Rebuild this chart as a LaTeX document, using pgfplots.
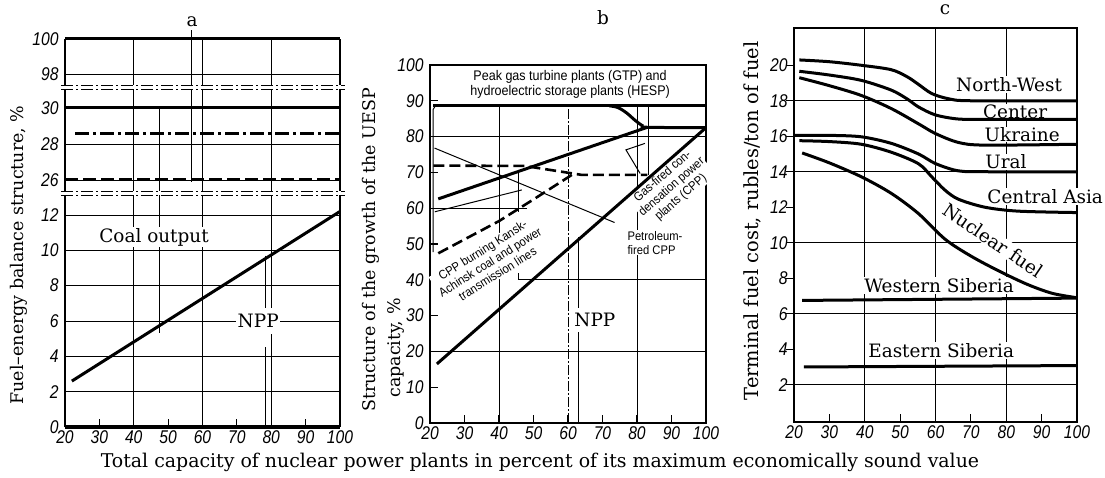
\documentclass[border=0pt]{standalone}
\usepackage{pgfplots}
\pgfplotsset{compat=1.18}
\usepackage{fontspec}
\setmainfont{DejaVu Serif}
\newfontfamily\tickfont[FakeStretch=0.85]{Liberation Sans}
\newfontfamily\labsans[FakeStretch=0.9]{Liberation Sans}
\newcommand{\lab}{\fontsize{18.5}{20}\selectfont}
\newcommand{\tk}{\fontsize{18.5}{19}\selectfont\tickfont\itshape}
\newcommand{\sm}{\fontsize{12.5}{14}\selectfont\labsans}
\tikzset{
  gridline/.style={line width=0.9bp},
  thinline/.style={line width=1bp},
  lab/.style={font=\lab, inner sep=1.5bp},
  sm/.style={font=\sm, inner sep=1bp},
}
\pgfplotsset{
  base/.style={
    scale only axis, anchor=south west,
    xmin=20, xmax=100, no markers, clip=false,
    /pgf/number format/assume math mode=true,
    tick label style={font=\tk},
    xticklabel={{\tk\pgfmathprintnumber[assume math mode=true]{\tick}}},
    yticklabel={{\tk\pgfmathprintnumber[assume math mode=true]{\tick}}},
    yticklabel style={xshift=-3bp},
    axis line style={line width=2.5bp},
    grid style={line width=0.9bp, black},
    tick style={line width=1.2bp, black},
    tick align=inside,
    major tick length=8bp,
    xtick pos=left, ytick pos=left,
  },
  abreak/.style={separate axis lines, x axis line style={draw=none}},
}
\begin{document}
\begin{tikzpicture}
\useasboundingbox (0bp,0bp) rectangle (1105bp,478bp);

% ---------------- panel a, top section
\begin{axis}[base, abreak, at={(65bp,393bp)}, width=275bp, height=46bp,
  ymin=97.39, ymax=100, ytick={98,100}, ymajorgrids, ytick style={draw=none},
  xtick=\empty, extra x ticks={40,60,80}, extra x tick labels={}, extra x tick style={grid=major}]
\draw[line width=3bp] (rel axis cs:0,1) -- (rel axis cs:1,1);
\draw[gridline] (axis cs:56.8,100.5) -- (axis cs:56.8,97.39);
\end{axis}

% ---------------- panel a, middle section
\begin{axis}[base, abreak, at={(65bp,287bp)}, width=275bp, height=102bp,
  ymin=25.39, ymax=31.07, ytick={26,28,30}, ymajorgrids, ytick style={draw=none},
  xtick=\empty, extra x ticks={40,60,80}, extra x tick labels={}, extra x tick style={grid=major}]
\draw[gridline] (axis cs:47.5,30.05) -- (axis cs:47.5,25.39);
\draw[gridline] (axis cs:56.8,31.07) -- (axis cs:56.8,25.9);
\addplot[line width=3bp] coordinates {(20,30.05) (100,30.05)};
\addplot[line width=2.8bp, dash pattern=on 14bp off 4bp on 3bp off 4bp] coordinates {(23,28.6) (100,28.6)};
\addplot[line width=2.8bp, dash pattern=on 13bp off 5bp] coordinates {(20,26.05) (100,26.05)};
\end{axis}

% ---------------- panel a, bottom section
\begin{axis}[base, abreak, at={(65bp,51bp)}, width=275bp, height=232bp,
  ymin=0, ymax=13.13, ytick={0,2,...,12}, ymajorgrids, ytick style={draw=none},
  xtick={20,30,...,100}, extra x ticks={40,60,80}, extra x tick labels={}, extra x tick style={grid=major}]
\draw[line width=3bp] (rel axis cs:0,0) -- (rel axis cs:1,0);
\draw[gridline] (axis cs:47.5,13.13) -- (axis cs:47.5,5.3);
\draw[gridline] (axis cs:78.2,9.7) -- (axis cs:78.2,6.5);
\draw[gridline] (axis cs:78.2,4.5) -- (axis cs:78.2,0);
\node[lab, fill=white] at (axis cs:45.9,10.75) {Coal output};
\node[lab, fill=white, inner ysep=6bp] at (axis cs:76.2,6.0) {NPP};
\addplot[line width=3bp] coordinates {(22,2.6) (100,12.2)};
\end{axis}

% break marks of panel a
\foreach \yy in {393,389,287,283}
  \draw[line width=0.9bp, dash pattern=on 12bp off 3bp on 2bp off 3bp] (61bp,\yy bp) -- (345bp,\yy bp);

% ---------------- panel b
\begin{axis}[base, at={(430bp,55bp)}, width=276bp, height=358bp,
  ymin=0, ymax=100, ytick={0,10,...,100}, xtick={20,30,...,100}]
% grid
\draw[gridline] (axis cs:20,20) -- (axis cs:100,20);
\draw[gridline] (axis cs:20,80) -- (axis cs:100,80);
\draw[gridline] (axis cs:45.5,40) -- (axis cs:100,40);
\draw[gridline] (axis cs:20,60) -- (axis cs:48,60);
\draw[gridline] (axis cs:40,0) -- (axis cs:40,88.6);
\draw[gridline, dash pattern=on 10bp off 2bp on 2bp off 2bp] (axis cs:60,0) -- (axis cs:60,88.6);
\draw[gridline] (axis cs:63,0) -- (axis cs:63,52);
\draw[gridline] (axis cs:80,0) -- (axis cs:80,88.6);
\draw[gridline] (axis cs:83.3,69.3) -- (axis cs:83.3,88.6);
\draw[gridline] (axis cs:45.6,59) -- (axis cs:45.6,69.8);
\draw[gridline] (axis cs:45.5,40) -- (axis cs:45.5,42);
% labels
\node[sm, font=\fontsize{14}{15}\selectfont\labsans, fill=white, align=center] at (axis cs:60.6,94.5) {Peak gas turbine plants (GTP) and\\hydroelectric storage plants (HESP)};
\node[sm, fill=white, align=center, rotate=41] at (axis cs:90.1,65.9) {Gas-fired con-\\densation power\\plants (CPP)};
\node[sm, fill=white, align=left] at (axis cs:85.2,50.3) {Petroleum-\\fired CPP};
\node[sm, fill=white, align=center, rotate=32] at (axis cs:37.4,45) {CPP burning Kansk-\\Achinsk coal and power\\transmission lines};
\node[lab, fill=white, inner ysep=5bp] at (axis cs:67.8,28.8) {NPP};
% data
\addplot[thinline] coordinates {(20.9,47.7) (20.9,87.6) (21.6,88.6)};
\addplot[thinline] coordinates {(21.3,76.8) (73.5,56)};
\addplot[thinline] coordinates {(21.4,59) (46.6,65.1)};
\addplot[thinline] coordinates {(82.3,78.1) (76.8,76.3) (80.9,69.7)};
\addplot[line width=3bp] coordinates {(21,88.6) (100,88.6)};
\addplot[line width=3bp, smooth] coordinates {(72,88.6) (74.5,88.1) (77,86.6) (79.5,84.5) (81.5,83.1) (83,82.6) (100,82.5)};
\addplot[line width=3bp] coordinates {(22.4,62.6) (83,82.6)};
\addplot[line width=3bp] coordinates {(22,16.5) (100,82.5)};
\addplot[line width=2.6bp, dash pattern=on 11bp off 5bp] coordinates {(21,71.9) (47.5,71.8) (64,69.3) (83,69.3)};
\addplot[line width=2.6bp, dash pattern=on 11bp off 5bp] coordinates {(22.4,47.4) (40,56.4) (50.4,62.7) (61.1,69.3)};
\end{axis}

% ---------------- panel c
\begin{axis}[base, at={(794bp,56bp)}, width=283bp, height=394bp,
  ymin=-0.1, ymax=22.1, axis line style={line width=2bp},
  ytick={4,8,...,20}, extra y ticks={2,6,10,14,18}, extra y tick style={grid=major},
  ytick style={/pgfplots/tick align=outside},
  xtick={20,30,...,100}, extra x ticks={40,60,80}, extra x tick labels={}, extra x tick style={grid=major}]
\node[lab, fill=white] at (axis cs:80.8,18.93) {North-West};
\node[lab, fill=white, inner ysep=0.5bp] at (axis cs:82.5,17.4) {Center};
\node[lab, fill=white, inner ysep=0.5bp] at (axis cs:84.5,16.1) {Ukraine};
\node[lab, fill=white, inner ysep=0.5bp] at (axis cs:79.9,14.55) {Ural};
\node[lab, fill=white] at (axis cs:91.0,12.6) {Central Asia};
\node[lab, fill=white, rotate=-34] at (axis cs:76.3,10.14) {Nuclear fuel};
\node[lab, fill=white] at (axis cs:61.0,7.6) {Western Siberia};
\node[lab, fill=white] at (axis cs:61.6,3.94) {Eastern Siberia};
\addplot[line width=3bp, smooth] coordinates {(21.5,20.3) (30,20.2) (39,20.0) (47.5,19.75) (52,19.35) (55,18.95) (59,18.4) (64,18.1) (70,18.0) (100,18.0)};
\addplot[line width=3bp, smooth] coordinates {(21.5,19.66) (30,19.45) (39,19.15) (47.5,18.6) (52,18.1) (55.2,17.65) (60,17.2) (66.5,16.97) (75,16.95) (100,16.95)};
\addplot[line width=3bp, smooth] coordinates {(21.5,19.3) (30,18.85) (39,18.3) (47.5,17.56) (55.2,16.7) (60,16.15) (66.5,15.65) (74,15.5) (100,15.55)};
\addplot[line width=3bp, smooth] coordinates {(20,16.05) (30,16.05) (39,15.97) (47.5,15.6) (55.2,15.0) (60,14.46) (66.5,14.05) (75,14.0) (100,14.0)};
\addplot[line width=3bp, smooth] coordinates {(21.5,15.75) (30,15.7) (39,15.55) (47.5,15.1) (55.2,14.45) (59,13.7) (62.7,12.96) (66.5,12.45) (74,12.0) (83.4,11.78) (100,11.7)};
\addplot[line width=3bp, smooth] coordinates {(22.3,15.06) (30,14.5) (39.2,13.7) (47.6,12.77) (55.2,11.64) (62.7,10.2) (70,9.25) (78,8.4) (86,7.65) (93,7.15) (100,6.9)};
\addplot[line width=3bp] coordinates {(22.3,6.75) (100,6.88)};
\addplot[line width=3bp] coordinates {(22.8,3.0) (100,3.08)};
\end{axis}

% axis labels and titles
\node[font=\fontsize{17.5}{20}\selectfont, rotate=90] at (19bp,223bp) {Fuel–energy balance structure, \%};
\node[font=\fontsize{17.5}{20}\selectfont, rotate=90] at (371bp,228bp) {Structure of the growth of the UESP};
\node[font=\fontsize{17.5}{20}\selectfont, rotate=90] at (396bp,130bp) {capacity, \%};
\node[font=\fontsize{19.5}{20}\selectfont, rotate=90] at (752bp,257bp) {Terminal fuel cost, rubles/ton of fuel};
\node[lab] at (192bp,456bp) {a};
\node[lab] at (603bp,460bp) {b};
\node[lab] at (945bp,468bp) {c};
\node[font=\fontsize{19}{20}\selectfont] at (540bp,16bp) {Total capacity of nuclear power plants in percent of its maximum economically sound value};
\end{tikzpicture}
\end{document}
